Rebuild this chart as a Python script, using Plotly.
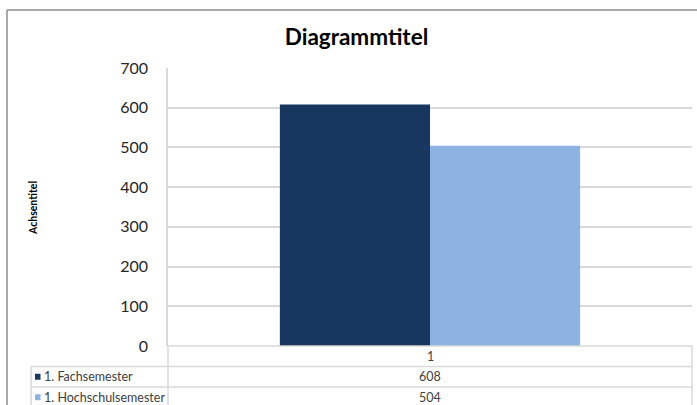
import plotly.graph_objects as go

# Data
categories = ["1"]
series_names = ["1. Fachsemester", "1. Hochschulsemester"]
fach_values = [608]
hochschul_values = [504]
series_values = [fach_values, hochschul_values]
colors = ["#17375E", "#8DB3E2"]
y_ticks = [0, 100, 200, 300, 400, 500, 600, 700]

W, H = 697, 405


def px_x(v):
    return v / W


def px_y(v):
    return 1 - v / H


# Plot area in pixels
PL, PR, PT, PB = 168, 692, 68, 346
TABLE_LEFT = 31
ROW_H = 20.5

fig = go.Figure()
for name, vals, col in zip(series_names, series_values, colors):
    fig.add_trace(go.Bar(
        x=categories, y=vals, name=name,
        marker=dict(color=col, line=dict(width=0)),
        showlegend=False,
    ))

font_family = "Lato, 'Open Sans', sans-serif"

fig.update_layout(
    width=W, height=H,
    margin=dict(l=0, r=0, t=0, b=0, pad=0, autoexpand=False),
    showlegend=False,
    paper_bgcolor="white", plot_bgcolor="white",
    barmode="group", bargap=0.427, bargroupgap=0,
    font=dict(family=font_family, color="#262626"),
    title=dict(text="<b>Diagrammtitel</b>", x=356.5 / W, xanchor="center",
               y=px_y(37), yanchor="middle",
               font=dict(size=22.5, color="#000000", family=font_family)),
    xaxis=dict(domain=[px_x(PL), px_x(PR)], showticklabels=False,
               showgrid=False, zeroline=False, showline=False, ticks="",
               automargin=False),
    yaxis=dict(domain=[px_y(PB), px_y(PT)], range=[0, 700],
               tickvals=y_ticks, ticks="", ticklabelstandoff=15,
               tickfont=dict(size=16, color="#262626"),
               showgrid=True, gridcolor="#D9D9D9", gridwidth=1.5,
               zeroline=False, showline=True, linecolor="#D9D9D9",
               linewidth=1.5, automargin=False),
)

# Axis title
fig.add_annotation(
    x=px_x(33), y=px_y(208), xref="paper", yref="paper",
    xanchor="center", yanchor="middle",
    text="<b>Achsentitel</b>", textangle=-90, showarrow=False,
    font=dict(size=10.5, color="#000000"),
)

line_col = "#D9D9D9"
shapes = []


def hline(y, x0, x1, color=line_col, w=1.5):
    shapes.append(dict(type="line", xref="paper", yref="paper",
                       x0=px_x(x0), x1=px_x(x1), y0=px_y(y), y1=px_y(y),
                       line=dict(color=color, width=w)))


def vline(x, y0, y1, color=line_col, w=1.5):
    shapes.append(dict(type="line", xref="paper", yref="paper",
                       x0=px_x(x), x1=px_x(x), y0=px_y(y0), y1=px_y(y1),
                       line=dict(color=color, width=w)))


# Data table grid
row_tops = [PB + ROW_H * (i + 1) for i in range(len(series_names))]
hline(PB, PL, PR)
for rt in row_tops:
    hline(rt, TABLE_LEFT, PR)
vline(PL, PB, H + 5)
vline(PR, PB, H + 5)
vline(TABLE_LEFT, row_tops[0], H + 5)

# Chart area border
hline(10, 7, W + 5, color="#8C8C8C", w=1.5)
vline(7, 10, H + 5, color="#8C8C8C", w=1.5)

cell_font = dict(size=12.5, color="#404040")

# Category header row
fig.add_annotation(x=px_x((PL + PR) / 2), y=px_y(PB + ROW_H / 2),
                   xref="paper", yref="paper", xanchor="center",
                   yanchor="middle", text=categories[0],
                   showarrow=False, font=cell_font)

# Series rows with legend keys and values
for i, (name, vals, col) in enumerate(zip(series_names, series_values, colors)):
    cy = row_tops[i] + ROW_H / 2
    shapes.append(dict(type="rect", xref="paper", yref="paper",
                       x0=px_x(35), x1=px_x(40.5), y0=px_y(cy - 3), y1=px_y(cy + 3),
                       fillcolor=col, line=dict(width=0)))
    fig.add_annotation(x=px_x(42), y=px_y(cy), xref="paper", yref="paper",
                       text=name, xanchor="left", yanchor="middle",
                       showarrow=False, font=cell_font)
    fig.add_annotation(x=px_x((PL + PR) / 2), y=px_y(cy), xref="paper",
                       yref="paper", xanchor="center", yanchor="middle",
                       text=str(vals[0]), showarrow=False, font=cell_font)

fig.update_layout(shapes=shapes)
fig.write_html("out.html")
